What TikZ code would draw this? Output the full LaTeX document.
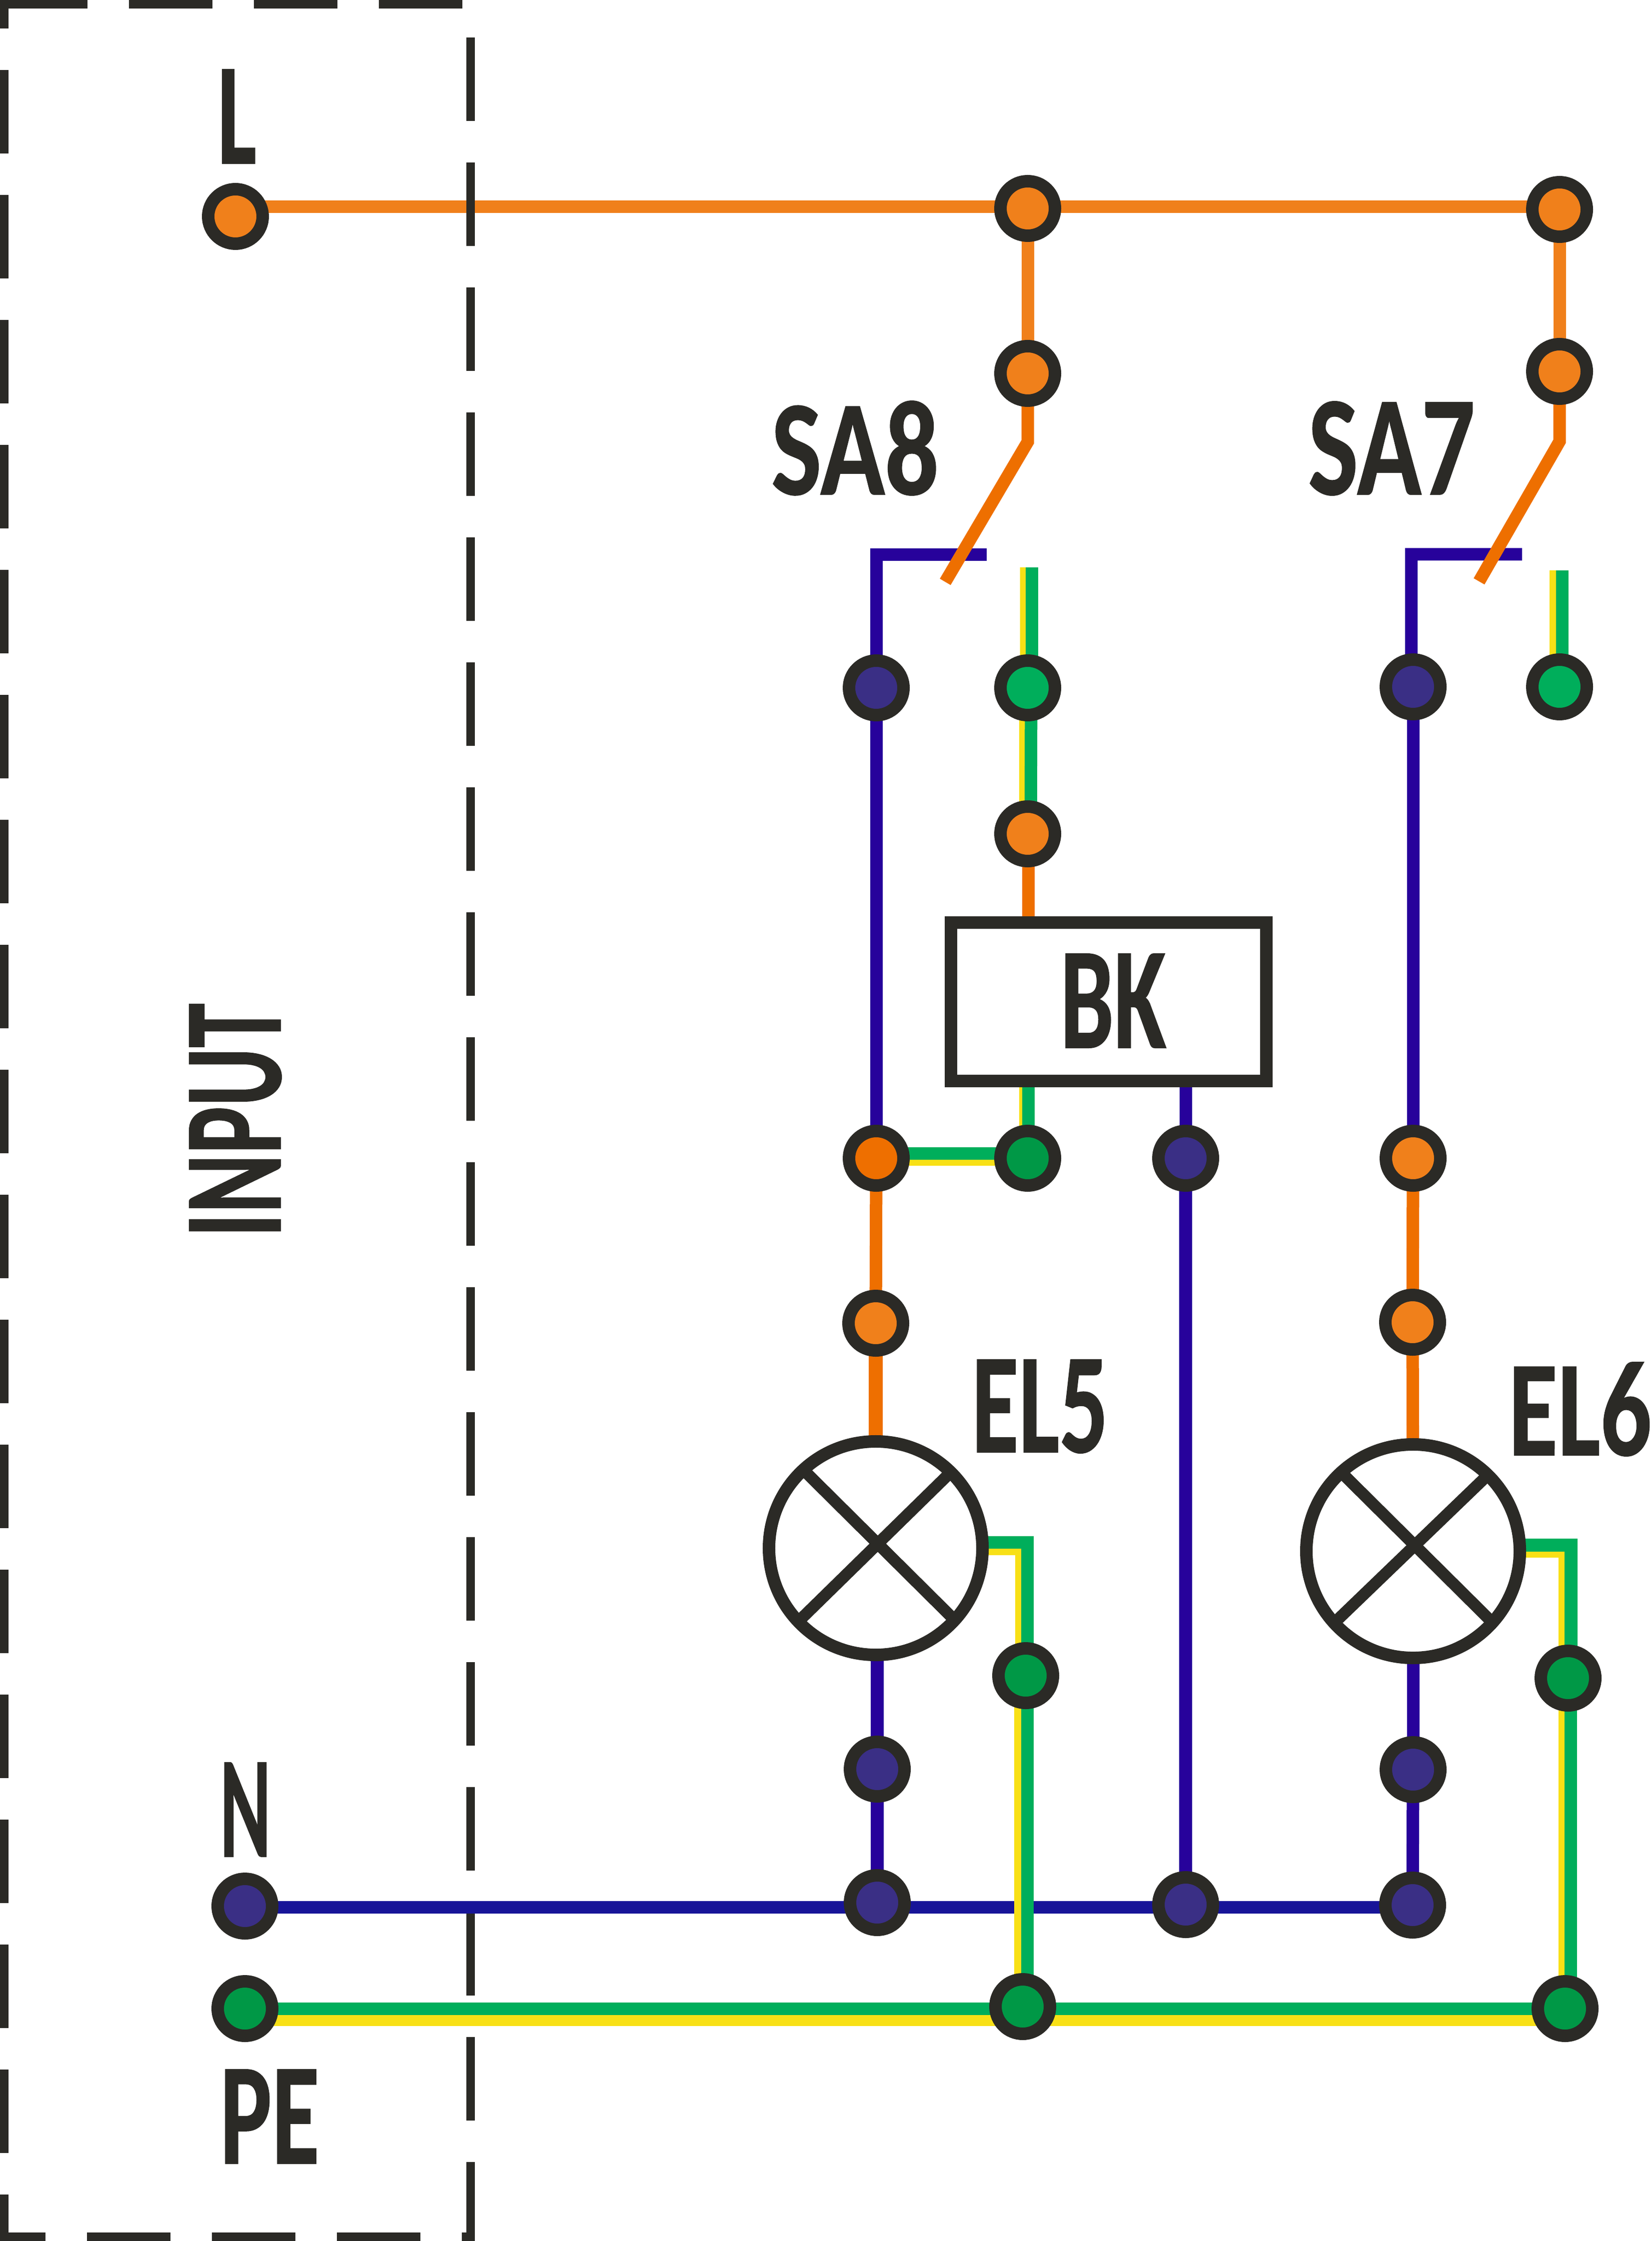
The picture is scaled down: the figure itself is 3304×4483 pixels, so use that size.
\documentclass[tikz,border=0pt]{standalone}
\usepackage{graphicx}
\usepackage{fontspec}
\setmainfont{Carlito}[BoldFeatures={FakeBold=0.7}]
\definecolor{ink}{HTML}{2B2A26}
\definecolor{orangeL}{HTML}{F0801B}
\definecolor{orangeD}{HTML}{EE6F00}
\definecolor{blueV}{HTML}{27029B}
\definecolor{blueH}{HTML}{171498}
\definecolor{blueN}{HTML}{3A2F85}
\definecolor{greenL}{HTML}{00AE5B}
\definecolor{greenD}{HTML}{009846}
\definecolor{yell}{HTML}{F8E016}
\pgfdeclarelayer{wires}
\pgfsetlayers{wires,main}
\tikzset{
  term/.style={circle,draw=ink,fill=#1,line width=6pt,minimum size=26.16pt,inner sep=0pt,outer sep=0pt},
  lamp/.style={circle,draw=ink,fill=white,line width=6pt,minimum size=102.5pt,inner sep=0pt,outer sep=0pt},
  relay/.style={rectangle,draw=ink,fill=white,line width=6pt,minimum width=151.44pt,minimum height=76.08pt,inner sep=0pt,outer sep=0pt},
  wire/.style n args={2}{draw=#1,line width=#2*0.24pt,line join=miter},
  frame/.style={draw=ink,line width=4.1pt,dash pattern=on 40pt off 20pt},
  crossing/.style={draw=ink,line width=5.6pt},
  lbl/.style={inner sep=0pt,outer sep=0pt,text=ink,font=\bfseries}
}
\newcommand{\fitbox}[3]{\resizebox*{\dimexpr #1pt*24/100\relax}{\dimexpr #2pt*24/100\relax}{#3}}
\begin{document}
\begin{tikzpicture}[x=0.24pt,y=-0.24pt]
\useasboundingbox (0,0) rectangle (3304,4483);
% terminals
\node[term=orangeL] (L) at (471,433) {};
\node[term=orangeL] (a1) at (2056,417) {};
\node[term=orangeL] (a2) at (2056,747) {};
\node[term=orangeL] (b1) at (3120,419) {};
\node[term=orangeL] (b2) at (3120,743) {};
\node[term=blueN] (a3) at (1753,1376) {};
\node[term=greenL] (a4) at (2056,1376) {};
\node[term=blueN] (b3) at (2827,1374) {};
\node[term=greenL] (b4) at (3120,1374) {};
\node[term=orangeL] (a5) at (2056,1668) {};
\node[term=orangeD] (a6) at (1753,2317) {};
\node[term=greenD] (a7) at (2056,2317) {};
\node[term=blueN] (a8) at (2372,2317) {};
\node[term=orangeL] (b6) at (2827,2317) {};
\node[term=orangeL] (a9) at (1752,2647) {};
\node[term=orangeL] (b9) at (2826,2645) {};
\node[term=greenD] (a10) at (2052,3352) {};
\node[term=greenD] (b10) at (3137,3357) {};
\node[term=blueN] (a11) at (1755,3539) {};
\node[term=blueN] (b11) at (2827,3540) {};
\node[term=blueN] (a12) at (1755,3806) {};
\node[term=blueN] (c12) at (2372,3810) {};
\node[term=blueN] (b12) at (2826,3811) {};
\node[term=blueN] (N) at (490,3813) {};
\node[term=greenD] (PE) at (490,4018) {};
\node[term=greenD] (a13) at (2046,4014) {};
\node[term=greenD] (b13) at (3131,4018) {};
% relay and lamps
\node[relay] (bk) at (2217.5,2003.5) {};
\node[lamp] (el5) at (1752,3097) {};
\node[lamp] (el6) at (2827,3103) {};
% lamp crosses
\draw[crossing] (1612,2945) -- (1907,3238);
\draw[crossing] (1897,2950) -- (1601,3240);
\draw[crossing] (2688,2950) -- (2981,3241);
\draw[crossing] (2971,2956) -- (2674,3242);
% labels
\node[lbl,anchor=north west] (tL) at (435,139) {\fitbox{78}{188}{L}};
\node[lbl,anchor=north west] (tN) at (440,3526) {\fitbox{102}{188}{N}};
\node[lbl,anchor=north west] (tPE) at (440,4140) {\fitbox{199}{188}{PE}};
\node[lbl,anchor=north west] (tSA8) at (1543,802) {\fitbox{335}{189}{SA8}};
\node[lbl,anchor=north west] (tSA7) at (2617,803) {\fitbox{334}{188}{SA7}};
\node[lbl,anchor=north west] (tBK) at (2121,1908) {\fitbox{212}{188}{BK}};
\node[lbl,anchor=north west] (tEL5) at (1944,2720) {\fitbox{273}{187}{EL5}};
\node[lbl,anchor=north west] (tEL6) at (3018,2725) {\fitbox{286}{188}{EL6}};
\node[lbl,rotate=90] (tIN) at (471,2241) {\fitbox{468}{184}{INPUT}};
% switch and stub ends
\coordinate (s8k) at (2056,884);
\coordinate (s8e) at (1891,1164);
\coordinate (s7k) at (3120,883);
\coordinate (s7e) at (2959,1163);
\coordinate (c8a) at (1753,1109.5);
\coordinate (c8b) at (1974,1109.5);
\coordinate (c7a) at (2823.5,1109);
\coordinate (c7b) at (3045,1109);
\coordinate (s8y) at (2046.5,1135);
\coordinate (s8g) at (2064.5,1135);
\coordinate (s7y) at (3106.5,1141);
\coordinate (s7g) at (3125,1141);
\begin{pgfonlayer}{wires}
% line L
\draw[wire={orangeL}{25}] ([shift={(0,-19.5)}]L.center) -- ([shift={(0,-3.5)}]a1.center);
\draw[wire={orangeL}{25}] ([shift={(0,-3.5)}]a1.center) -- ([shift={(0,-5.5)}]b1.center);
% dashed frame
\draw[frame,dash phase=26.4pt] (8.5,0) -- (8.5,4483);
\draw[frame,dash phase=18.24pt] (0,4474.5) -- (950,4474.5);
\draw[frame] (8,8.25) -- (950,8.25);
\draw[frame,dash phase=42pt] (941.5,0) -- (941.5,4483);
% switches
\draw[wire={orangeL}{25}] (a1) -- (a2);
\draw[wire={orangeL}{25}] (b1) -- (b2);
\draw[wire={blueV}{25}] (a3) -- (c8a) -- (c8b);
\draw[wire={blueV}{25}] ([shift={(-3.5,0)}]b3.center) -- (c7a) -- (c7b);
\draw[wire={orangeD}{25}] (a2) -- (s8k) -- (s8e);
\draw[wire={orangeD}{25}] (b2) -- (s7k) -- (s7e);
\draw[wire={yell}{12}] (s8y) -- ([shift={(-9.5,0)}]a4.center);
\draw[wire={greenL}{25}] (s8g) -- ([shift={(8.5,0)}]a4.center);
\draw[wire={yell}{13}] (s7y) -- ([shift={(-13.5,0)}]b4.center);
\draw[wire={greenL}{25}] (s7g) -- ([shift={(5,0)}]b4.center);
% relay branch
\draw[wire={yell}{12}] ([shift={(-11,0)}]a4.center) -- ([shift={(-11,0)}]a5.center);
\draw[wire={greenL}{25}] ([shift={(7,0)}]a4.center) -- ([shift={(6,0)}]a5.center);
\draw[wire={orangeD}{25}] ([shift={(1.5,0)}]a5.center) -- ([shift={(1.5,0)}]a5.center |- bk.north);
\draw[wire={yell}{6}] ([shift={(-14,0)}]a7.center |- bk.south) -- ([shift={(-14,0)}]a7.center);
\draw[wire={greenL}{25}] ([shift={(1.5,0)}]a7.center |- bk.south) -- ([shift={(1.5,0)}]a7.center);
\draw[wire={blueV}{25}] (a8.center |- bk.south) -- (a8);
% left column
\draw[wire={blueV}{25}] (a3) -- (a6);
\draw[wire={yell}{12}] ([shift={(0,9)}]a6.center) -- ([shift={(0,9)}]a7.center);
\draw[wire={greenL}{25}] ([shift={(0,-9.5)}]a6.center) -- ([shift={(0,-9.5)}]a7.center);
\draw[wire={orangeD}{25}] (a6) -- (a9);
\draw[wire={orangeD}{28}] (a9) -- (el5.center);
\draw[wire={blueV}{26}] (el5.center -| a11) -- (a11);
\draw[wire={blueV}{26}] (a11) -- (a12);
% centre column
\draw[wire={blueV}{26}] (a8) -- (c12);
% right column
\draw[wire={blueV}{25}] (b3) -- (b6);
\draw[wire={orangeD}{25}] (b6) -- (b9);
\draw[wire={orangeD}{25}] (b9) -- (el6.center);
\draw[wire={blueV}{25}] (el6) -- (b11);
\draw[wire={blueV}{25}] (b11) -- (b12);
% neutral
\draw[wire={blueH}{25}] ([shift={(0,2)}]N.center) -- ([shift={(0,9)}]a12.center);
\draw[wire={blueH}{25}] ([shift={(0,9)}]a12.center) -- ([shift={(0,5)}]c12.center);
\draw[wire={blueH}{25}] ([shift={(0,5)}]c12.center) -- ([shift={(0,4)}]b12.center);
% EL5 earth
\draw[wire={yell}{13}] ([shift={(0,7.5)}]el5.center) -- (2037,3104.5) -- ([shift={(-15,0)}]a10.center);
\draw[wire={greenL}{25}] ([shift={(0,-11.5)}]el5.center) -- (2055.5,3085.5) -- ([shift={(3.5,0)}]a10.center);
\draw[wire={yell}{14}] ([shift={(-16,0)}]a10.center) -- ([shift={(-10,0)}]a13.center);
\draw[wire={greenL}{25}] ([shift={(3.5,0)}]a10.center) -- ([shift={(9.5,0)}]a13.center);
% EL6 earth
\draw[wire={yell}{12}] ([shift={(0,7)}]el6.center) -- (3124,3110) -- ([shift={(-13,0)}]b10.center);
\draw[wire={greenL}{26}] ([shift={(0,-12)}]el6.center) -- (3142.5,3091) -- ([shift={(5.5,0)}]b10.center);
\draw[wire={yell}{12}] ([shift={(-13,0)}]b10.center) -- ([shift={(-7,0)}]b13.center);
\draw[wire={greenL}{25}] ([shift={(5.5,0)}]b10.center) -- ([shift={(11.5,0)}]b13.center);
% PE
\draw[wire={yell}{22}] ([shift={(0,24)}]PE.center) -- ([shift={(0,28)}]a13.center);
\draw[wire={greenL}{25}] ([shift={(0,0.5)}]PE.center) -- ([shift={(0,4.5)}]a13.center);
\draw[wire={yell}{22}] ([shift={(0,28)}]a13.center) -- ([shift={(0,24)}]b13.center);
\draw[wire={greenL}{25}] ([shift={(0,4.5)}]a13.center) -- ([shift={(0,0.5)}]b13.center);
\end{pgfonlayer}
\end{tikzpicture}
\end{document}
